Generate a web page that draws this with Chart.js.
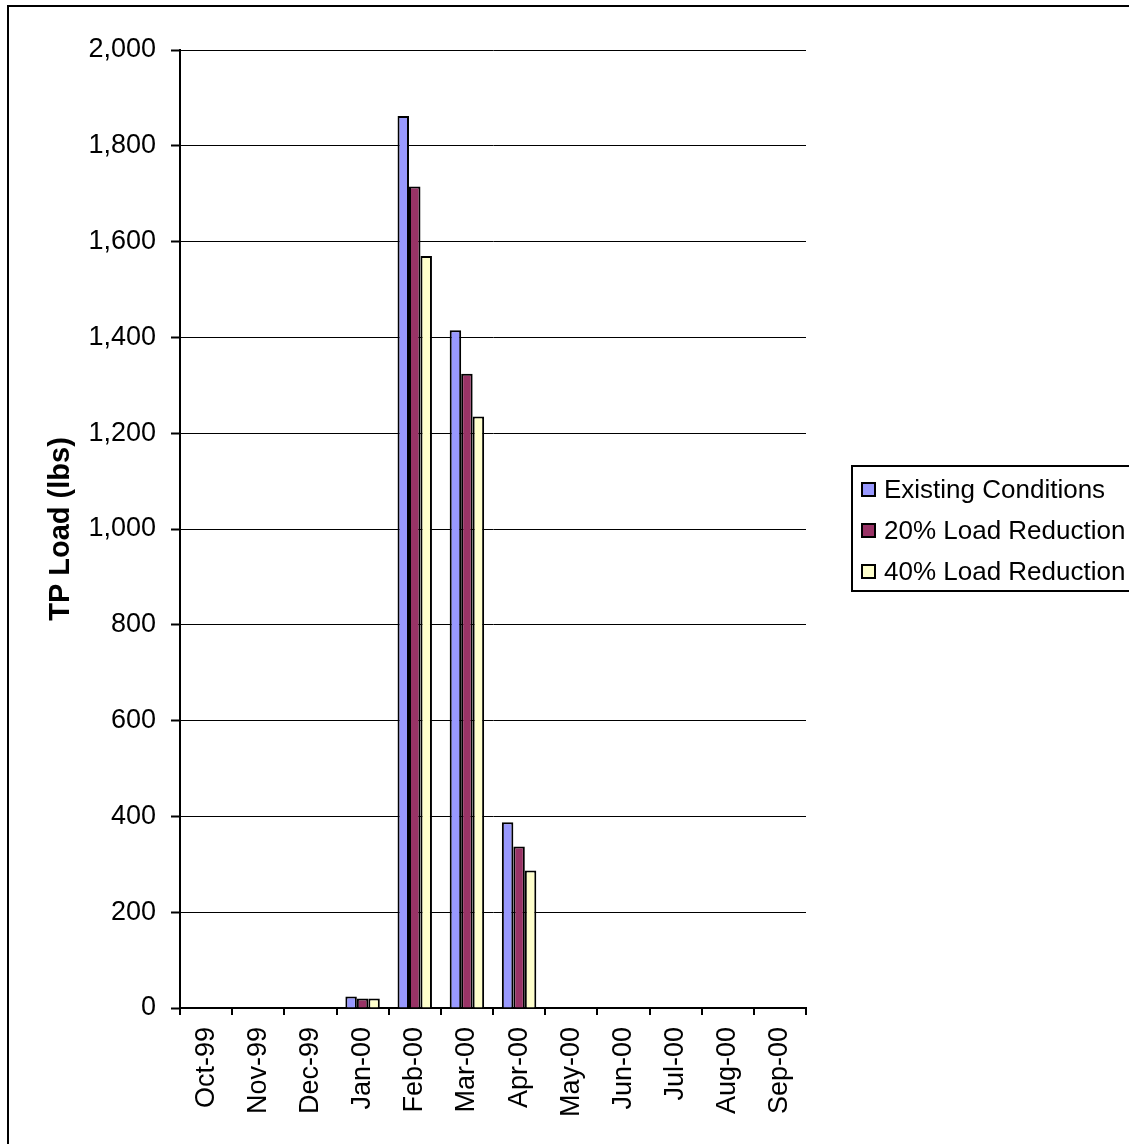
<!DOCTYPE html>
<html>
<head>
<meta charset="utf-8">
<script src="https://cdn.jsdelivr.net/npm/chart.js@4/dist/chart.umd.min.js"></script>
<style>
  html, body { margin: 0; padding: 0; background: #ffffff; }
  #wrap { width: 1129px; height: 1144px; position: relative; }
</style>
</head>
<body>
<div id="wrap"><canvas id="c" width="1129" height="1144"></canvas></div>
<script>
// Monthly TP load, Oct-99 through Sep-00
const months = ['Oct-99', 'Nov-99', 'Dec-99', 'Jan-00', 'Feb-00', 'Mar-00',
                'Apr-00', 'May-00', 'Jun-00', 'Jul-00', 'Aug-00', 'Sep-00'];
const existingConditions = [0, 0, 0, 24, 1862, 1415, 388, 0, 0, 0, 0, 0];
const reduction20 = [0, 0, 0, 20, 1715, 1324, 337, 0, 0, 0, 0, 0];
const reduction40 = [0, 0, 0, 20, 1570, 1235, 287, 0, 0, 0, 0, 0];
const seriesNames = ['Existing Conditions', '20% Load Reduction', '40% Load Reduction'];
const yTicks = [0, 200, 400, 600, 800, 1000, 1200, 1400, 1600, 1800, 2000];

const FONT = '"Liberation Sans", Arial, sans-serif';
const colors = ['#9999FF', '#993366', '#FFFFCC'];

// Outer frame and the boxed legend on the right
const framePlugin = {
  id: 'frameAndLegend',
  afterDraw(chart) {
    const ctx = chart.ctx;
    ctx.save();
    ctx.strokeStyle = '#000';
    ctx.lineWidth = 2;
    // outer frame (top and left edges visible, others run off the canvas)
    ctx.strokeRect(8, 6, 1140, 1160);

    // legend box
    ctx.strokeRect(852, 466, 300, 125);
    ctx.font = '26px ' + FONT;
    ctx.textBaseline = 'middle';
    ctx.textAlign = 'left';
    const rowY = [490, 531, 572];
    chart.data.datasets.forEach((ds, i) => {
      const y = rowY[i];
      ctx.fillStyle = ds.backgroundColor;
      ctx.fillRect(862, y - 7, 13, 13);
      ctx.lineWidth = 2;
      ctx.strokeStyle = '#000';
      ctx.strokeRect(862, y - 7, 13, 13);
      ctx.fillStyle = '#000';
      ctx.fillText(ds.label, 884, y + 1);
    });
    ctx.restore();
  }
};

const barStyle = {
  borderColor: '#000',
  borderWidth: 2,
  categoryPercentage: 0.66,
  barPercentage: 1.0
};

new Chart(document.getElementById('c'), {
  type: 'bar',
  data: {
    labels: months,
    datasets: [
      Object.assign({ label: seriesNames[0], data: existingConditions, backgroundColor: colors[0] }, barStyle),
      Object.assign({ label: seriesNames[1], data: reduction20, backgroundColor: colors[1] }, barStyle),
      Object.assign({ label: seriesNames[2], data: reduction40, backgroundColor: colors[2] }, barStyle)
    ]
  },
  options: {
    responsive: false,
    animation: false,
    devicePixelRatio: 1,
    layout: { padding: { left: 0, top: 50, right: 323, bottom: 0 } },
    plugins: {
      legend: { display: false },
      tooltip: { enabled: false }
    },
    scales: {
      x: {
        offset: true,
        grid: {
          offset: true,
          drawOnChartArea: false,
          color: '#000',
          lineWidth: 2,
          tickLength: 7
        },
        border: { color: '#000', width: 2 },
        ticks: {
          color: '#000',
          font: { family: FONT, size: 27 },
          minRotation: 90,
          maxRotation: 90,
          padding: 12,
          autoSkip: false
        },
        afterFit(scale) { scale.height = 136; }
      },
      y: {
        min: 0,
        max: 2000,
        afterBuildTicks(scale) { scale.ticks = yTicks.map(v => ({ value: v })); },
        grid: {
          color: '#000',
          lineWidth: 1,
          tickLength: 9,
          tickColor: '#000',
          tickWidth: 2
        },
        border: { color: '#000', width: 2 },
        ticks: {
          color: '#000',
          font: { family: FONT, size: 27 },
          padding: 15,
          callback: v => v.toLocaleString('en-US')
        },
        title: {
          display: true,
          text: 'TP Load (lbs)',
          color: '#000',
          font: { family: FONT, size: 29, weight: 'bold' },
          padding: { top: 44, bottom: 0 }
        },
        afterFit(scale) { scale.width = 180; }
      }
    }
  },
  plugins: [framePlugin]
});
</script>
</body>
</html>
